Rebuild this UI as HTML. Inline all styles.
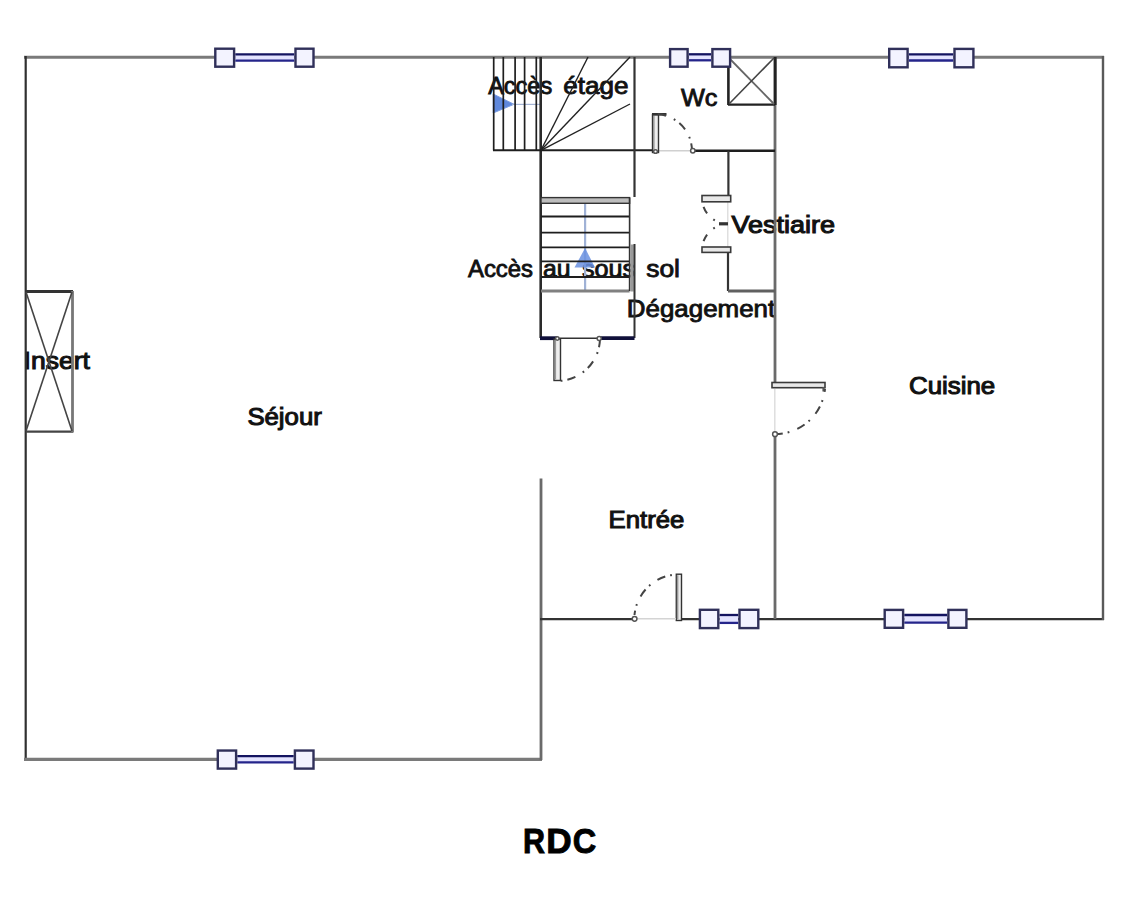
<!DOCTYPE html>
<html><head><meta charset="utf-8"><title>RDC</title>
<style>
html,body{margin:0;padding:0;background:#fff;width:1138px;height:912px;overflow:hidden}
svg{position:absolute;left:0;top:0;display:block}
text{font-family:"Liberation Sans",sans-serif}
</style></head><body>
<svg width="1138" height="912" viewBox="0 0 1138 912">
<text x="488.20" y="94.3" font-size="23.5" font-weight="normal" fill="#111" stroke="#111" stroke-width="0.85" textLength="64.00" lengthAdjust="spacingAndGlyphs">Accès</text>
<text x="563.20" y="94.3" font-size="23.5" font-weight="normal" fill="#111" stroke="#111" stroke-width="0.85" textLength="65.23" lengthAdjust="spacingAndGlyphs">étage</text>
<text x="681.00" y="106" font-size="23.5" font-weight="normal" fill="#111" stroke="#111" stroke-width="0.85" textLength="36.44" lengthAdjust="spacingAndGlyphs">Wc</text>
<text x="731.40" y="232.6" font-size="23.5" font-weight="normal" fill="#111" stroke="#111" stroke-width="1.05" textLength="103.61" lengthAdjust="spacingAndGlyphs">Vestiaire</text>
<text x="468.00" y="277" font-size="23.5" font-weight="normal" fill="#111" stroke="#111" stroke-width="0.85" textLength="65.00" lengthAdjust="spacingAndGlyphs">Accès</text>
<text x="543.00" y="277" font-size="23.5" font-weight="normal" fill="#111" stroke="#111" stroke-width="0.85" textLength="27.54" lengthAdjust="spacingAndGlyphs">au</text>
<text x="582.00" y="277" font-size="23.5" font-weight="normal" fill="#111" stroke="#111" stroke-width="0.85" textLength="53.21" lengthAdjust="spacingAndGlyphs">sous</text>
<text x="646.20" y="277" font-size="23.5" font-weight="normal" fill="#111" stroke="#111" stroke-width="0.85" textLength="33.73" lengthAdjust="spacingAndGlyphs">sol</text>
<text x="626.80" y="316.5" font-size="23.5" font-weight="normal" fill="#111" stroke="#111" stroke-width="0.85" textLength="148.41" lengthAdjust="spacingAndGlyphs">Dégagement</text>
<text x="23.60" y="368.6" font-size="23.5" font-weight="normal" fill="#111" stroke="#111" stroke-width="1.05" textLength="66.25" lengthAdjust="spacingAndGlyphs">Insert</text>
<text x="247.40" y="425" font-size="23.5" font-weight="normal" fill="#111" stroke="#111" stroke-width="1.05" textLength="74.41" lengthAdjust="spacingAndGlyphs">Séjour</text>
<text x="909.00" y="394.3" font-size="23.5" font-weight="normal" fill="#111" stroke="#111" stroke-width="1.05" textLength="86.22" lengthAdjust="spacingAndGlyphs">Cuisine</text>
<text x="608.60" y="528" font-size="23.5" font-weight="normal" fill="#111" stroke="#111" stroke-width="1.05" textLength="75.65" lengthAdjust="spacingAndGlyphs">Entrée</text>
<text x="523.00" y="852.8" font-size="34.5" font-weight="bold" fill="#000" stroke="#000" stroke-width="0.9" textLength="22.02" lengthAdjust="spacingAndGlyphs">R</text>
<text x="546.20" y="852.8" font-size="34.5" font-weight="bold" fill="#000" stroke="#000" stroke-width="0.9" textLength="25.45" lengthAdjust="spacingAndGlyphs">D</text>
<text x="572.80" y="852.8" font-size="34.5" font-weight="bold" fill="#000" stroke="#000" stroke-width="0.9" textLength="23.49" lengthAdjust="spacingAndGlyphs">C</text>
<polygon points="493.2,94 514,104.3 493.2,113" fill="#5f88dc" stroke="#7a9ce0" stroke-width="1" stroke-linejoin="round"/>
<line x1="512" y1="104.4" x2="540" y2="104.4" stroke="#a4b4d4" stroke-width="1.2" />
<line x1="585.1" y1="200.8" x2="585.1" y2="292" stroke="#a0b2d6" stroke-width="2.2" />
<polygon points="585.1,248 595,267.5 574.5,267.5" fill="#6a90e0" fill-opacity="0.85"/>
<line x1="24" y1="57.2" x2="1104" y2="57.2" stroke="#7a7a7a" stroke-width="3.0" />
<line x1="25.7" y1="56" x2="25.7" y2="760" stroke="#303030" stroke-width="2.2" />
<line x1="24" y1="759.3" x2="542" y2="759.3" stroke="#7a7a7a" stroke-width="3.2" />
<line x1="541" y1="478.5" x2="541" y2="760" stroke="#6a6a6a" stroke-width="2.8" />
<line x1="540" y1="619.1" x2="636" y2="619.1" stroke="#333" stroke-width="2.3" />
<line x1="679" y1="619.1" x2="1104" y2="619.1" stroke="#333" stroke-width="2.3" />
<line x1="1103" y1="56" x2="1103" y2="620" stroke="#5a5a5a" stroke-width="2.4" />
<line x1="775" y1="57" x2="775" y2="385" stroke="#6a6a6a" stroke-width="2.8" />
<line x1="775" y1="434" x2="775" y2="619" stroke="#6a6a6a" stroke-width="2.8" />
<line x1="25.7" y1="291.5" x2="73" y2="291.5" stroke="#333" stroke-width="3.2" />
<line x1="25.7" y1="431.6" x2="73" y2="431.6" stroke="#444" stroke-width="2.2" />
<line x1="72.5" y1="291" x2="72.5" y2="432.5" stroke="#777" stroke-width="2.8" />
<line x1="26" y1="292" x2="72" y2="431" stroke="#444" stroke-width="1.6" />
<line x1="72" y1="292" x2="26" y2="431" stroke="#444" stroke-width="1.6" />
<line x1="493.7" y1="57" x2="493.7" y2="150.3" stroke="#1e1e1e" stroke-width="1.7" />
<line x1="503.3" y1="57" x2="503.3" y2="150.3" stroke="#1e1e1e" stroke-width="1.7" />
<line x1="515.1" y1="57" x2="515.1" y2="150.3" stroke="#1e1e1e" stroke-width="1.7" />
<line x1="524.6" y1="57" x2="524.6" y2="150.3" stroke="#1e1e1e" stroke-width="1.7" />
<line x1="536.3" y1="57" x2="536.3" y2="150.3" stroke="#1e1e1e" stroke-width="1.7" />
<line x1="540.7" y1="57" x2="540.7" y2="338" stroke="#2a2a2a" stroke-width="2.6" />
<line x1="493" y1="150.3" x2="655" y2="150.3" stroke="#1e1e1e" stroke-width="2.0" />
<line x1="691" y1="150.8" x2="775" y2="150.8" stroke="#1e1e1e" stroke-width="2.4" />
<line x1="658" y1="150.8" x2="691" y2="150.8" stroke="#d0d0d0" stroke-width="1.4" />
<line x1="541" y1="150.3" x2="588" y2="57" stroke="#222" stroke-width="1.4" />
<line x1="541" y1="150.3" x2="630" y2="57" stroke="#222" stroke-width="1.4" />
<line x1="541" y1="150.3" x2="630" y2="104" stroke="#222" stroke-width="1.4" />
<line x1="634.5" y1="57" x2="634.5" y2="197" stroke="#333" stroke-width="2.2" />
<line x1="728.4" y1="57" x2="728.4" y2="105" stroke="#222" stroke-width="2.6" />
<line x1="728" y1="104.6" x2="775" y2="104.6" stroke="#222" stroke-width="2.2" />
<line x1="775.2" y1="57" x2="775.2" y2="105" stroke="#222" stroke-width="2.8" />
<line x1="729" y1="58" x2="774" y2="104" stroke="#666" stroke-width="1.8" />
<line x1="774" y1="58" x2="729" y2="104" stroke="#444" stroke-width="1.6" />
<line x1="728.4" y1="150.8" x2="728.4" y2="197" stroke="#333" stroke-width="2.2" />
<line x1="728" y1="249" x2="728" y2="291" stroke="#333" stroke-width="2.2" />
<line x1="727.8" y1="202" x2="727.8" y2="247" stroke="#d8d8d8" stroke-width="1.2" />
<line x1="728" y1="290.9" x2="775" y2="290.9" stroke="#606060" stroke-width="3.0" />
<rect x="541" y="197.6" width="88.6" height="5.7" fill="#bdbdbd" stroke="#333" stroke-width="1.4"/>
<line x1="541" y1="216.5" x2="629.6" y2="216.5" stroke="#1e1e1e" stroke-width="1.8" />
<line x1="541" y1="232.7" x2="629.6" y2="232.7" stroke="#1e1e1e" stroke-width="1.8" />
<line x1="541" y1="247.4" x2="629.6" y2="247.4" stroke="#1e1e1e" stroke-width="1.8" />
<line x1="541" y1="261.3" x2="629.6" y2="261.3" stroke="#1e1e1e" stroke-width="1.8" />
<line x1="541" y1="277" x2="629.6" y2="277" stroke="#1e1e1e" stroke-width="1.8" />
<line x1="541" y1="290.9" x2="629.6" y2="290.9" stroke="#808080" stroke-width="3.0" />
<line x1="629.6" y1="197.6" x2="629.6" y2="291" stroke="#333" stroke-width="1.6" />
<rect x="630.3" y="244.5" width="3.4" height="47" fill="#9a9a9a"/>
<line x1="634.5" y1="244" x2="634.5" y2="338" stroke="#333" stroke-width="2.0" />
<line x1="540" y1="338.2" x2="557" y2="338.2" stroke="#10103a" stroke-width="3.8" />
<line x1="600" y1="338.2" x2="634.5" y2="338.2" stroke="#10103a" stroke-width="3.8" />
<line x1="557" y1="338.2" x2="600" y2="338.2" stroke="#333" stroke-width="1.6" />
<rect x="235.3" y="54.3" width="59.0" height="6.300000000000004" fill="#e4e4ff"/>
<line x1="235.3" y1="54.3" x2="294.3" y2="54.3" stroke="#141460" stroke-width="2.3"/>
<line x1="235.3" y1="60.6" x2="294.3" y2="60.6" stroke="#24248a" stroke-width="2.3"/>
<rect x="215.29999999999998" y="48.7" width="18.80000000000002" height="18.000000000000007" fill="#f3f3ff" stroke="#30305a" stroke-width="2.4"/>
<rect x="295.5" y="48.7" width="17.99999999999998" height="18.000000000000007" fill="#f3f3ff" stroke="#30305a" stroke-width="2.4"/>
<rect x="688.8" y="54.3" width="22.40000000000009" height="6.0" fill="#e4e4ff"/>
<line x1="688.8" y1="54.3" x2="711.2" y2="54.3" stroke="#141460" stroke-width="2.3"/>
<line x1="688.8" y1="60.3" x2="711.2" y2="60.3" stroke="#24248a" stroke-width="2.3"/>
<rect x="670.1" y="49.1" width="17.49999999999998" height="17.60000000000001" fill="#f3f3ff" stroke="#30305a" stroke-width="2.4"/>
<rect x="712.4000000000001" y="49.1" width="17.69999999999991" height="17.60000000000001" fill="#f3f3ff" stroke="#30305a" stroke-width="2.4"/>
<rect x="908.8" y="54.3" width="44.5" height="6.200000000000003" fill="#e4e4ff"/>
<line x1="908.8" y1="54.3" x2="953.3" y2="54.3" stroke="#141460" stroke-width="2.3"/>
<line x1="908.8" y1="60.5" x2="953.3" y2="60.5" stroke="#24248a" stroke-width="2.3"/>
<rect x="889.2" y="48.900000000000006" width="18.399999999999956" height="18.4" fill="#f3f3ff" stroke="#30305a" stroke-width="2.4"/>
<rect x="954.5" y="48.900000000000006" width="18.90000000000007" height="18.4" fill="#f3f3ff" stroke="#30305a" stroke-width="2.4"/>
<rect x="237.3" y="756.1" width="56.39999999999998" height="6.2999999999999545" fill="#e4e4ff"/>
<line x1="237.3" y1="756.1" x2="293.7" y2="756.1" stroke="#141460" stroke-width="2.3"/>
<line x1="237.3" y1="762.4" x2="293.7" y2="762.4" stroke="#24248a" stroke-width="2.3"/>
<rect x="217.79999999999998" y="750.5500000000001" width="18.30000000000002" height="18.049999999999933" fill="#f3f3ff" stroke="#30305a" stroke-width="2.4"/>
<rect x="294.9" y="750.5500000000001" width="18.6" height="18.049999999999933" fill="#f3f3ff" stroke="#30305a" stroke-width="2.4"/>
<rect x="719.5" y="615" width="18.799999999999955" height="7.899999999999977" fill="#e4e4ff"/>
<line x1="719.5" y1="615" x2="738.3" y2="615" stroke="#141460" stroke-width="2.3"/>
<line x1="719.5" y1="622.9" x2="738.3" y2="622.9" stroke="#24248a" stroke-width="2.3"/>
<rect x="699.9000000000001" y="609.8000000000001" width="18.399999999999956" height="18.299999999999933" fill="#f3f3ff" stroke="#30305a" stroke-width="2.4"/>
<rect x="739.5" y="609.8000000000001" width="18.800000000000047" height="18.299999999999933" fill="#f3f3ff" stroke="#30305a" stroke-width="2.4"/>
<rect x="904.3" y="615" width="42.90000000000009" height="7.7000000000000455" fill="#e4e4ff"/>
<line x1="904.3" y1="615" x2="947.2" y2="615" stroke="#141460" stroke-width="2.3"/>
<line x1="904.3" y1="622.7" x2="947.2" y2="622.7" stroke="#24248a" stroke-width="2.3"/>
<rect x="884.7" y="609.9000000000001" width="18.399999999999956" height="17.899999999999956" fill="#f3f3ff" stroke="#30305a" stroke-width="2.4"/>
<rect x="948.4000000000001" y="609.9000000000001" width="17.99999999999998" height="17.899999999999956" fill="#f3f3ff" stroke="#30305a" stroke-width="2.4"/>
<rect x="652.5" y="114.5" width="6.0" height="38.0" fill="#eee" stroke="#333" stroke-width="1.4"/>
<line x1="653.8" y1="115.5" x2="653.8" y2="151.5" stroke="#999" stroke-width="1.6" />
<line x1="652" y1="114.3" x2="666.5" y2="114.3" stroke="#333" stroke-width="2.6" />
<path d="M655,114 A37,37 0 0 1 692,151" fill="none" stroke="#444" stroke-width="2" stroke-dasharray="8.5,8.5,1.8,5" stroke-dashoffset="21.1"/>
<circle cx="655.5" cy="151.5" r="1.87" fill="#fff" stroke="#555" stroke-width="1.5"/>
<circle cx="692.8" cy="150.8" r="2.21" fill="#fff" stroke="#555" stroke-width="1.5"/>
<rect x="554" y="339" width="6.5" height="41.5" fill="#eee" stroke="#333" stroke-width="1.4"/>
<line x1="555.3" y1="340" x2="555.3" y2="379.5" stroke="#999" stroke-width="1.6" />
<path d="M557,381 A43,43 0 0 0 600,338" fill="none" stroke="#444" stroke-width="2" stroke-dasharray="8.5,8.5,1.8,5" stroke-dashoffset="13.3"/>
<circle cx="557.3" cy="338.5" r="1.7" fill="#fff" stroke="#555" stroke-width="1.5"/>
<circle cx="599.2" cy="338.5" r="2.04" fill="#fff" stroke="#555" stroke-width="1.5"/>
<rect x="772" y="382.5" width="53" height="5.199999999999989" fill="#e8e8e8" stroke="#3a3a3a" stroke-width="1.6"/>
<line x1="823.5" y1="387" x2="823.5" y2="391.5" stroke="#555" stroke-width="2.2" />
<path d="M825,389 A50,50 0 0 1 775,434" fill="none" stroke="#444" stroke-width="2" stroke-dasharray="8.5,8.5,1.8,5" stroke-dashoffset="5.5"/>
<line x1="774.8" y1="389" x2="774.8" y2="431" stroke="#dcdcdc" stroke-width="1.4" />
<circle cx="775" cy="434.2" r="2.38" fill="#fff" stroke="#555" stroke-width="1.5"/>
<rect x="676.3" y="574.2" width="5.2000000000000455" height="46.299999999999955" fill="#eee" stroke="#333" stroke-width="1.4"/>
<line x1="677.5999999999999" y1="575.2" x2="677.5999999999999" y2="619.5" stroke="#999" stroke-width="1.6" />
<path d="M675,574.5 A45,45 0 0 0 634.5,615" fill="none" stroke="#444" stroke-width="2" stroke-dasharray="8.5,8.5,1.8,5" stroke-dashoffset="13.8"/>
<line x1="637.5" y1="618.8" x2="676" y2="618.8" stroke="#d4d4d4" stroke-width="1.4" />
<circle cx="634.6" cy="618.8" r="2.38" fill="#fff" stroke="#555" stroke-width="1.5"/>
<rect x="702" y="195.5" width="28.700000000000045" height="6.300000000000011" fill="#e8e8e8" stroke="#3a3a3a" stroke-width="1.6"/>
<rect x="702" y="247" width="28.700000000000045" height="5.400000000000006" fill="#e8e8e8" stroke="#3a3a3a" stroke-width="1.6"/>
<path d="M702,198 A26,26 0 0 0 728,224" fill="none" stroke="#444" stroke-width="2" stroke-dasharray="0,9,7.5,8.5,1.8,100"/>
<path d="M702,250 A26,26 0 0 1 728,224" fill="none" stroke="#444" stroke-width="2" stroke-dasharray="0,9,7.5,8.5,1.8,100"/>
<line x1="719" y1="223.8" x2="728" y2="223.8" stroke="#333" stroke-width="3.2" />
</svg>
</body></html>
